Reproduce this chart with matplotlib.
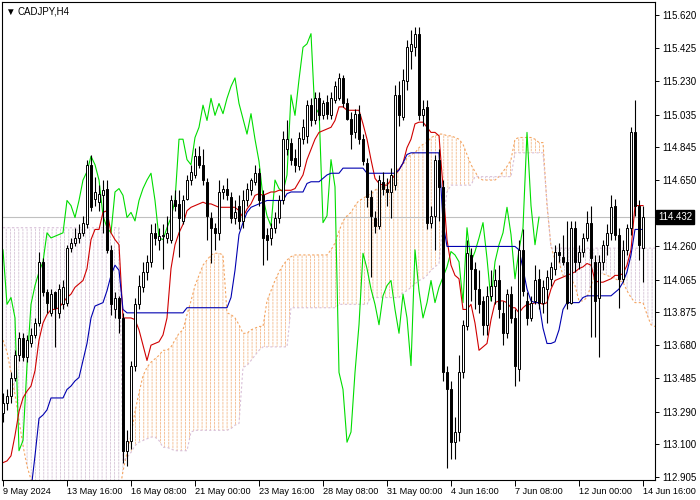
import numpy as np
import matplotlib
matplotlib.use("Agg")
import matplotlib.pyplot as plt
from matplotlib.transforms import blended_transform_factory

plt.rcParams['font.family'] = ['Liberation Sans', 'DejaVu Sans']
plt.rcParams['hatch.linewidth'] = 0.6

symbol = "CADJPY,H4"
last_price = 114.432

opens = [
    113.28, 113.34, 113.38, 113.49, 113.62, 113.72, 113.61, 113.69, 113.74, 113.81,
    114.17, 113.99, 113.87, 113.99, 113.87, 113.92, 113.93, 114.25, 114.28, 114.31,
    114.34, 114.39, 114.74, 114.54, 114.52, 114.56, 114.60, 114.24, 113.89, 113.96,
    113.84, 113.06, 113.12, 113.56, 113.92, 114.02, 114.11, 114.17, 114.34, 114.30,
    114.32, 114.31, 114.30, 114.53, 114.51, 114.41, 114.54, 114.65, 114.68, 114.79,
    114.74, 114.64, 114.43, 114.37, 114.34, 114.58, 114.60, 114.55, 114.43, 114.50,
    114.41, 114.53, 114.59, 114.64, 114.69, 114.56, 114.33, 114.31, 114.37, 114.43,
    114.53, 114.83, 114.87, 114.78, 114.73, 114.89, 114.91, 115.09, 115.00, 115.13,
    115.03, 115.11, 115.03, 115.12, 115.13, 115.25, 115.10, 115.01, 114.93, 115.04,
    114.89, 114.75, 114.55, 114.43, 114.38, 114.64, 114.60, 114.58, 114.62, 115.15,
    115.02, 115.23, 115.41, 115.43, 115.51, 115.03, 115.08, 114.40, 114.44, 114.77,
    114.61, 113.52, 113.42, 113.11, 113.17, 113.52, 113.79, 114.21, 114.13, 114.01,
    113.94, 113.80, 113.97, 114.03, 114.06, 113.87, 113.75, 113.98, 113.84, 113.54,
    114.24, 113.94, 113.84, 113.94, 114.07, 113.93, 114.01, 114.07, 114.13, 114.23,
    114.20, 114.17, 113.93, 114.37, 114.17, 114.23, 114.31, 114.40, 114.17, 113.96,
    114.17, 114.27, 114.34, 114.50, 114.33, 114.07, 114.24, 114.37, 114.93, 114.50,
    114.25]
highs = [
    113.40, 113.42, 113.52, 113.65, 113.76, 113.75, 113.74, 113.78, 113.84, 114.23,
    114.19, 114.01, 114.01, 114.00, 114.04, 114.06, 114.27, 114.31, 114.37, 114.39,
    114.44, 114.77, 114.80, 114.67, 114.62, 114.65, 114.65, 114.27, 113.99, 113.97,
    113.87, 113.18, 113.59, 113.96, 114.09, 114.17, 114.21, 114.39, 114.40, 114.37,
    114.39, 114.44, 114.56, 114.59, 114.59, 114.56, 114.68, 114.74, 114.84, 114.85,
    114.83, 114.66, 114.46, 114.40, 114.65, 114.62, 114.66, 114.58, 114.53, 114.56,
    114.59, 114.63, 114.66, 114.74, 114.72, 114.59, 114.37, 114.40, 114.46, 114.56,
    114.94, 115.00, 114.90, 114.83, 114.93, 115.01, 115.12, 115.13, 115.17, 115.17,
    115.12, 115.15, 115.17, 115.23, 115.28, 115.27, 115.13, 115.05, 115.07, 115.09,
    114.92, 114.78, 114.59, 114.47, 114.68, 114.70, 114.66, 114.72, 115.21, 115.23,
    115.30, 115.47, 115.53, 115.55, 115.55, 115.12, 115.12, 114.50, 114.80, 114.83,
    114.65, 113.56, 113.47, 113.26, 113.62, 113.83, 114.30, 114.25, 114.17, 114.12,
    113.97, 114.03, 114.12, 114.13, 114.15, 113.94, 114.01, 114.03, 113.89, 114.30,
    114.36, 113.99, 113.97, 114.15, 114.13, 114.06, 114.12, 114.17, 114.27, 114.28,
    114.33, 114.41, 114.41, 114.41, 114.27, 114.34, 114.47, 114.50, 114.21, 114.21,
    114.30, 114.39, 114.56, 114.54, 114.37, 114.30, 114.39, 114.96, 115.12, 114.53,
    114.50]
lows = [
    113.23, 113.30, 113.34, 113.47, 113.59, 113.59, 113.58, 113.67, 113.72, 113.79,
    113.97, 113.87, 113.85, 113.67, 113.84, 113.89, 113.91, 114.23, 114.26, 114.28,
    114.32, 114.37, 114.47, 114.50, 114.47, 114.34, 114.22, 113.86, 113.84, 113.75,
    112.99, 112.97, 113.07, 113.53, 113.89, 113.99, 114.06, 114.14, 114.27, 114.24,
    114.13, 114.28, 114.28, 114.47, 114.20, 114.39, 114.53, 114.62, 114.66, 114.72,
    114.62, 114.30, 114.16, 114.24, 114.30, 114.54, 114.53, 114.40, 114.39, 114.36,
    114.37, 114.50, 114.56, 114.62, 114.50, 114.15, 114.18, 114.27, 114.34, 114.40,
    114.51, 114.80, 114.74, 114.70, 114.71, 114.86, 114.87, 114.97, 114.98, 115.00,
    115.01, 115.01, 115.01, 115.10, 115.12, 115.08, 115.00, 114.83, 114.90, 114.86,
    114.74, 114.49, 114.08, 114.34, 114.36, 114.56, 114.50, 114.43, 114.59, 114.97,
    115.00, 115.18, 115.30, 115.38, 115.00, 114.97, 114.36, 114.37, 114.24, 114.41,
    113.47, 112.96, 113.01, 113.01, 113.12, 113.49, 113.77, 113.94, 113.89, 113.87,
    113.74, 113.74, 113.94, 113.92, 113.84, 113.68, 113.72, 113.81, 113.44, 113.47,
    113.97, 113.80, 113.82, 113.92, 113.89, 113.87, 113.81, 114.03, 114.09, 114.17,
    114.15, 113.89, 113.92, 114.11, 114.13, 114.20, 114.29, 113.73, 113.73, 113.61,
    114.12, 114.21, 114.30, 114.30, 113.90, 114.05, 114.21, 114.33, 114.44, 114.18,
    114.05]
closes = [
    113.34, 113.38, 113.49, 113.62, 113.72, 113.61, 113.71, 113.74, 113.81, 114.17,
    113.99, 113.93, 113.98, 113.90, 114.01, 114.02, 114.25, 114.28, 114.31, 114.34,
    114.40, 114.74, 114.49, 114.58, 114.57, 114.59, 114.24, 113.92, 113.96, 113.84,
    113.06, 113.12, 113.56, 113.92, 114.03, 114.11, 114.17, 114.34, 114.31, 114.32,
    114.33, 114.34, 114.53, 114.50, 114.43, 114.53, 114.65, 114.70, 114.79, 114.74,
    114.65, 114.44, 114.37, 114.34, 114.58, 114.60, 114.56, 114.43, 114.46, 114.41,
    114.53, 114.60, 114.65, 114.69, 114.53, 114.31, 114.30, 114.37, 114.43, 114.53,
    114.89, 114.89, 114.77, 114.74, 114.90, 114.96, 115.09, 115.00, 115.13, 115.03,
    115.10, 115.04, 115.13, 115.20, 115.25, 115.10, 115.01, 114.92, 115.04, 114.89,
    114.76, 114.55, 114.44, 114.38, 114.65, 114.60, 114.58, 114.68, 115.15, 115.03,
    115.24, 115.43, 115.45, 115.51, 115.03, 115.07, 114.40, 114.44, 114.77, 114.61,
    113.52, 113.42, 113.11, 113.17, 113.52, 113.80, 114.22, 114.13, 114.01, 113.92,
    113.80, 113.97, 114.03, 114.06, 113.89, 113.75, 113.98, 113.84, 113.56, 114.24,
    114.00, 113.84, 113.93, 114.06, 113.93, 114.02, 114.08, 114.14, 114.23, 114.21,
    114.17, 113.93, 114.37, 114.17, 114.23, 114.31, 114.40, 114.19, 113.94, 114.17,
    114.27, 114.34, 114.49, 114.33, 114.07, 114.24, 114.37, 114.93, 114.50, 114.27,
    114.432]

tenkan = [
    112.99, 113.00, 113.03, 113.15, 113.29, 113.37, 113.41, 113.44, 113.53, 113.71,
    113.81, 113.86, 113.89, 113.89, 113.90, 113.93, 113.96, 113.98, 114.02, 114.04,
    114.06, 114.13, 114.30, 114.36, 114.36, 114.46, 114.47, 114.34, 114.30, 114.27,
    113.84, 113.84, 113.84, 113.83, 113.77, 113.68, 113.59, 113.68, 113.69, 113.70,
    113.74, 113.84, 114.13, 114.27, 114.34, 114.39, 114.47, 114.49, 114.50, 114.51,
    114.52, 114.51, 114.51, 114.50, 114.49, 114.49, 114.49, 114.49, 114.49, 114.47,
    114.43, 114.48, 114.51, 114.56, 114.57, 114.56, 114.57, 114.58, 114.58, 114.59,
    114.59, 114.59, 114.59, 114.60, 114.64, 114.68, 114.77, 114.83, 114.89, 114.93,
    114.94, 114.95, 114.96, 115.00, 115.08, 115.08, 115.06, 115.06, 115.06, 115.06,
    114.98, 114.89, 114.77, 114.66, 114.63, 114.62, 114.62, 114.65, 114.68, 114.71,
    114.75, 114.84, 114.89, 114.98, 114.99, 114.99, 114.96, 114.93, 114.93, 114.91,
    114.61, 114.30, 114.15, 114.09, 114.07, 113.89, 113.89, 113.92, 113.81, 113.65,
    113.67, 113.69, 113.83, 113.93, 113.94, 113.94, 113.93, 113.90, 113.90, 113.87,
    113.90, 113.92, 113.92, 113.93, 113.93, 113.92, 113.93, 114.01, 114.06, 114.07,
    114.08, 114.09, 114.10, 114.11, 114.13, 114.14, 114.16, 114.15, 114.06, 114.05,
    114.05, 114.06, 114.07, 114.09, 114.09, 114.10, 114.15, 114.24, 114.50, 114.50,
    114.50]
kijun = (
    [112.77] * 7 + [112.83, 113.03, 113.25,
     113.27, 113.30, 113.37, 113.37, 113.37, 113.37, 113.42, 113.44, 113.47, 113.49,
     113.59, 113.69, 113.84, 113.91, 113.92, 113.93, 114.00, 114.09, 114.15, 114.12,
     113.89] + [113.87] * 15 + [113.90] * 11 +
    [113.96, 114.12, 114.33,
     114.40, 114.46, 114.49, 114.50, 114.51, 114.52, 114.53, 114.53, 114.53, 114.53,
     114.53, 114.57, 114.58, 114.58, 114.58, 114.58, 114.63, 114.64, 114.64, 114.64,
     114.66, 114.68, 114.69, 114.69, 114.69] + [114.72] * 6 + [114.69] * 8 +
    [114.71, 114.75, 114.80] + [114.81] * 8 + [114.40] + [114.26] * 18 +
    [114.24, 114.13, 114.01, 113.94, 113.93, 113.93, 113.78, 113.69, 113.69, 113.70,
     113.77, 113.89, 113.93, 113.93, 113.93, 113.93, 113.96, 113.97] +
    [113.97] * 6 + [113.99, 114.01, 114.05, 114.11, 114.21, 114.36, 114.36, 114.36])

span_a = (
    [113.71, 113.64, 113.52, 113.39, 113.24, 113.09, 112.97, 112.89] + [112.77] * 21 +
    [112.80,
     112.94, 113.05, 113.15, 113.29, 113.40, 113.50, 113.55, 113.58, 113.60, 113.62,
     113.65, 113.65, 113.67, 113.71, 113.75, 113.77, 113.86, 113.94, 114.03, 114.09,
     114.15, 114.18, 114.21, 114.22, 114.22, 114.21, 113.87, 113.86, 113.84, 113.80,
     113.75, 113.75, 113.77, 113.78, 113.79, 113.79, 113.94, 114.00, 114.06, 114.11,
     114.15, 114.18, 114.20] + [114.21] * 9 +
    [114.24, 114.28, 114.35, 114.41, 114.44, 114.46, 114.50, 114.53,
     114.54, 114.56, 114.57, 114.59, 114.61, 114.62, 114.63, 114.66, 114.70, 114.72,
     114.74, 114.78, 114.80, 114.81, 114.84, 114.86, 114.87, 114.90, 114.91, 114.92,
     114.92, 114.91, 114.91, 114.90, 114.89, 114.86, 114.80, 114.74, 114.70, 114.66,
     114.65, 114.65, 114.65, 114.65, 114.67, 114.70, 114.73, 114.77, 114.89, 114.90,
     114.90, 114.90, 114.90, 114.89, 114.87, 114.87, 114.50, 114.26, 114.18, 114.17,
     114.09, 114.07, 114.07, 114.03, 113.94, 113.94, 113.96, 114.03, 114.09, 114.10,
     114.10, 114.09, 114.08, 114.07, 114.06, 114.05, 114.00, 113.96, 113.93, 113.93,
     113.93, 113.86, 113.80, 113.79])
span_b = (
    [114.37] * 30 +
    [113.00, 113.02, 113.05, 113.09, 113.11, 113.12, 113.13, 113.14, 113.14, 113.12,
     113.08, 113.08, 113.07, 113.06, 113.06, 113.06, 113.06, 113.17] + [113.18] * 9 +
    [113.19, 113.21, 113.22, 113.55, 113.56, 113.59, 113.62, 113.65] + [113.67] * 7 +
    [113.90] * 12 + [113.92] * 8 + [113.96] * 8 +
    [113.99, 114.00, 114.02, 114.04, 114.06, 114.07, 114.09, 114.12, 114.14, 114.16,
     114.41, 114.58] + [114.62] * 6 + [114.67] * 10 + [114.81] * 8 +
    [114.52] + [114.25] * 27)

date_ticks = [0, 16, 32, 48, 64, 80, 96, 112, 128, 144, 160]
date_labels = ["9 May 2024", "13 May 16:00", "16 May 08:00", "21 May 00:00",
               "23 May 16:00", "28 May 08:00", "31 May 00:00", "4 Jun 16:00",
               "7 Jun 08:00", "12 Jun 00:00", "14 Jun 16:00"]
price_ticks = [115.620, 115.425, 115.230, 115.035, 114.845, 114.650, 114.455,
               114.260, 114.065, 113.875, 113.680, 113.485, 113.290, 113.100, 112.905]

chikou_shift = 26

o = np.array(opens); h = np.array(highs); l = np.array(lows); c = np.array(closes)
n = len(c)
idx = np.arange(n)
sa = np.array(span_a); sb = np.array(span_b)
jx = np.arange(len(sa))

fig = plt.figure(figsize=(7, 5), dpi=100)
ax = fig.add_axes([2 / 700, 20 / 500, 653 / 700, 478 / 500])
ax.set_xlim(-0.25, 163)
ax.set_ylim(112.888, 115.696)

up = sa >= sb
ax.fill_between(jx, sa, sb, where=up, interpolate=True, facecolor='none',
                edgecolor='#F3B888', hatch='||||', linewidth=0, zorder=1)
ax.fill_between(jx, sa, sb, where=~up, interpolate=True, facecolor='none',
                edgecolor='#D5C2D5', hatch='||||', linewidth=0, zorder=1)
ax.fill_between(jx, sa, sb, facecolor='none', edgecolor='white',
                hatch='-----', linewidth=0, zorder=1.1)
ax.plot(jx, sa, color='#F4A460', lw=0.8, ls=(0, (2, 2)), zorder=1.2)
ax.plot(jx, sb, color='#D8BFD8', lw=0.8, ls=(0, (2, 2)), zorder=1.2)

ax.axhline(last_price, color='#c0c0c0', lw=0.8, zorder=1.5)

ax.plot(idx[:-chikou_shift], c[chikou_shift:], color='#00dd00', lw=0.8, zorder=2)
ax.plot(idx, tenkan, color='#d00000', lw=0.8, zorder=2.2)
ax.plot(idx, kijun, color='#0000b0', lw=0.8, zorder=2.2)

ax.vlines(idx, l, h, color='black', lw=0.8, zorder=3)
bull = c >= o
body = np.maximum(np.abs(c - o), 0.004)
ax.bar(idx, body, bottom=np.minimum(o, c), width=0.7,
       color=np.where(bull, 'white', 'black'), edgecolor='black',
       linewidth=0.7, zorder=4)

ax.yaxis.tick_right()
ax.set_yticks(price_ticks)
# the 114.455 label sits under the current-price box, as in the terminal
ax.set_yticklabels(["" if abs(v - 114.455) < 1e-6 else f"{v:.3f}" for v in price_ticks])
ax.tick_params(axis='y', length=3, width=0.7, labelsize=7, pad=2)
ax.set_xticks(date_ticks)
ax.set_xticklabels(date_labels)
ax.tick_params(axis='x', length=4, width=0.7, labelsize=6.6, pad=1)
for lab in ax.get_xticklabels():
    lab.set_ha('left')
for s in ax.spines.values():
    s.set_linewidth(0.8)
    s.set_color('black')

trans = blended_transform_factory(ax.transAxes, ax.transData)
ax.text(1.005, last_price, f"{last_price:.3f}", transform=trans, ha='left',
        va='center', fontsize=7, color='white', zorder=10, clip_on=False,
        bbox=dict(boxstyle='square,pad=0.2', fc='black', ec='black'))

fig.text(5 / 700, 1 - 12 / 500, "\u25bc", fontsize=7, va='center', ha='left')
fig.text(18 / 700, 1 - 12 / 500, symbol, fontsize=7, va='center', ha='left')

fig.savefig("out.png", dpi=100)
